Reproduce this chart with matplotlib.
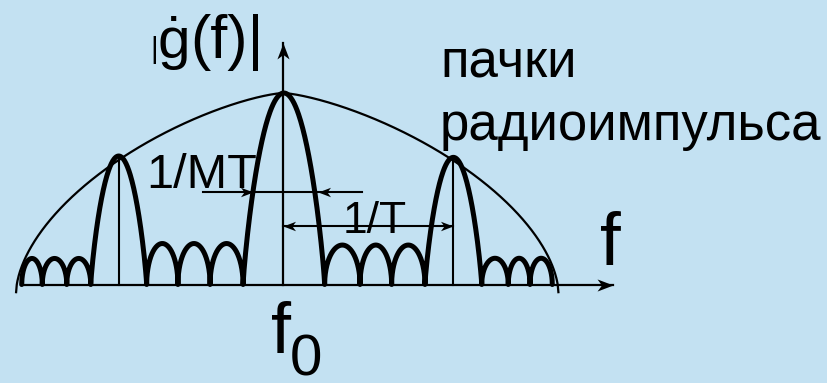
import numpy as np
import matplotlib
matplotlib.use("Agg")
import matplotlib.pyplot as plt
from matplotlib.path import Path
from matplotlib.transforms import Affine2D

# Spectrum of a burst of radio pulses: frequency in units of 1/T (f0 at 0),
# amplitude relative to the central peak.
nulls = [-1.537, -1.416, -1.272, -1.131, -0.802, -0.618, -0.429, -0.235,
         0.245, 0.453, 0.639, 0.835, 1.169, 1.325, 1.453, 1.584]
lobe_heights = [0.136, 0.136, 0.136, 0.671, 0.214, 0.214, 0.214, 1.0,
                0.206, 0.206, 0.206, 0.664, 0.137, 0.137, 0.137]

# Envelope: spectrum of a single radio pulse
env_left, env_right = -1.57, 1.62
env_peak, env_floor = 1.0, -0.04

# Width markers: 1/MT (main lobe) and 1/T (spacing of the main lobes)
mt_level = 0.485
mt_line = [-0.469, 0.463]
mt_tips = [-0.175, 0.208]
t_level = 0.305

BG = "#C3E1F2"
FONT = "Liberation Sans"

W, H, DPI = 827, 383, 100
X0, SX = 283.0, 170.0      # pixel of f0, pixels per 1/T
Y0, SY = 284.5, 191.5      # pixel of the baseline, pixels per unit amplitude


def px(x, y):
    """Convert a figure pixel position into data coordinates."""
    return (x - X0) / SX, (Y0 - y) / SY


fig = plt.figure(figsize=(W / DPI, H / DPI), dpi=DPI, facecolor=BG)
ax = fig.add_axes([0, 0, 1, 1])
ax.set_facecolor(BG)
ax.set_xlim(-X0 / SX, (W - X0) / SX)
ax.set_ylim((Y0 - H) / SY, Y0 / SY)
ax.axis("off")


def stealth(angle):
    verts = [(0, 0), (-1, 0.38), (-0.72, 0), (-1, -0.38), (0, 0)]
    codes = [Path.MOVETO, Path.LINETO, Path.LINETO, Path.LINETO, Path.CLOSEPOLY]
    p = Path(verts, codes)
    return Affine2D().rotate_deg(angle).transform_path(p)


def head(x, y, angle, size=21):
    ax.plot([x], [y], marker=stealth(angle), markersize=size,
            color="black", markeredgewidth=0, zorder=5)


# Coordinate axes
xa0, _ = px(20.7, 0)
xa1, _ = px(613, 0)
_, ya1 = px(0, 43)
ax.plot([xa0, xa1], [0, 0], color="black", lw=1.6, zorder=3)
head(xa1, 0, 0, 23)
ax.plot([0, 0], [0, ya1], color="black", lw=1.6, zorder=3)
head(0, ya1, 90, 23)

# Lobes of the burst spectrum as one continuous curve
xs, ys = [], []
for a, b, h in zip(nulls[:-1], nulls[1:], lobe_heights):
    u = np.linspace(-1, 1, 161)
    p = 0.85 if h > 0.5 else 0.5
    xs.append((a + b) / 2 + (b - a) / 2 * u)
    ys.append(h * np.clip(1 - u ** 2, 0, None) ** p)
ax.plot(np.concatenate(xs), np.concatenate(ys), color="black", lw=3.6,
        solid_joinstyle="round", solid_capstyle="round", zorder=4)

# Vertical marks at the side main lobes
side_centres = [(a + b) / 2 for a, b, h in zip(nulls[:-1], nulls[1:], lobe_heights)
                if 0.5 < h < 1.0]
side_heights = [h for h in lobe_heights if 0.5 < h < 1.0]
for c, h in zip(side_centres, side_heights):
    ax.plot([c, c], [0, h], color="black", lw=1.5, zorder=3)

# Envelope
u = np.linspace(-1, 1, 801)
ex = np.where(u < 0, u * -env_left, u * env_right)
ey = env_floor + (env_peak - env_floor) * (1 - np.abs(u) ** 1.4) ** 0.58
ax.plot(ex, ey, color="black", lw=1.6, zorder=3)

# 1/MT marker
ax.plot(mt_line, [mt_level, mt_level], color="black", lw=1.5, zorder=3)
head(mt_tips[0], mt_level, 0, 18)
head(mt_tips[1], mt_level, 180, 18)

# 1/T marker between f0 and the right main lobe
right_main = side_centres[-1]
ax.plot([0, right_main], [t_level, t_level], color="black", lw=1.5, zorder=3)
head(0, t_level, 180, 18)
head(right_main, t_level, 0, 18)


def label(x, y, s, size):
    tx, ty = px(x, y)
    ax.text(tx, ty, s, fontsize=size, family=FONT, ha="left", va="baseline",
            color="black", zorder=6)


label(150, 58, "|", 21)
label(158, 58, "ġ", 42)
label(190, 58, "(f)|", 44)
label(440, 78, "пачки", 38)
label(440, 140, "радиоимпульса", 38)
label(146, 188, "1/MT", 35)
label(343, 233, "1/T", 32)
label(600, 265, "f", 54)
label(271, 353, "f", 52)
label(290, 376, "0", 42)

fig.savefig("out.png", dpi=DPI, facecolor=BG)
